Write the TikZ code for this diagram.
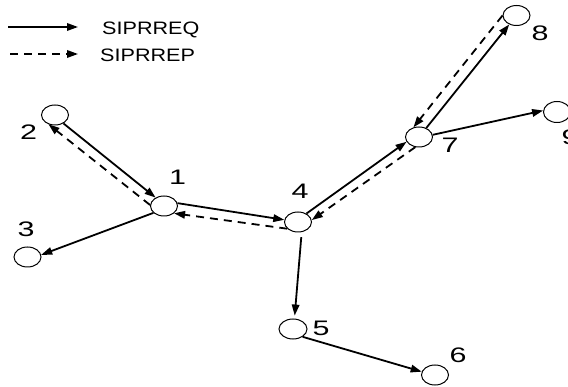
\documentclass[tikz,border=0pt]{standalone}
\usepackage{fontspec}
\setmainfont{Liberation Sans}
\usetikzlibrary{arrows.meta,shapes.geometric}
% labels are set in a horizontally widened face
\newcommand\widenum[1]{\scalebox{1.45}[1]{#1}}
\newcommand\widetext[1]{\scalebox{1.2}[1]{#1}}
\begin{document}
\begin{tikzpicture}[x=1pt,y=-1pt,
  station/.style={ellipse,draw,line width=1pt,inner sep=0pt,
    minimum width=27pt,minimum height=20pt},
  num/.style={inner sep=0pt,font=\fontsize{21}{21}\selectfont},
  req/.style={line width=1.8pt,-{Triangle[length=11pt,width=7.5pt]}},
  rep/.style={req,dash pattern=on 8pt off 6pt},
  legendtext/.style={inner sep=0pt,anchor=base west,
    font=\fontsize{18}{18}\selectfont}]
\useasboundingbox (0,0) rectangle (568,387);
\clip (0,0) rectangle (568,387);

% legend
\coordinate (qa) at (8,27);   \coordinate (qb) at (78,27);
\coordinate (pa) at (10,54);  \coordinate (pb) at (78,54);
\draw[req] (qa) -- (qb);
\draw[rep] (pa) -- (pb);
\node[legendtext] (lq) at (102,35) {\widetext{SIPRREQ}};
\node[legendtext] (lp) at (100,62) {\widetext{SIPRREP}};

% stations
\node[station] (n1) at (164,206) {};
\node[station] (n2) at (55,115) {};
\node[station] (n3) at (27.5,257) {};
\node[station] (n4) at (298,222) {};
\node[station,minimum width=28pt] (n5) at (293,329) {};
\node[station] (n6) at (435,375) {};
\node[station] (n7) at (419,137) {};
\node[station] (n8) at (516.5,15.5) {};
\node[station,minimum height=21pt] (n9) at (557,112) {};

% station numbers
\node[num] (l1) at (177.5,177) {\widenum{1}};
\node[num] (l2) at (28.5,132.5) {\widenum{2}};
\node[num] (l3) at (26,229.5) {\widenum{3}};
\node[num] (l4) at (300,191.5) {\widenum{4}};
\node[num] (l5) at (321,328) {\widenum{5}};
\node[num] (l6) at (458,355.5) {\widenum{6}};
\node[num] (l7) at (450,145) {\widenum{7}};
\node[num] (l8) at (540,33) {\widenum{8}};
\node[num] (l9) at (570,137.5) {\widenum{9}};

% requests (solid) and replies (dashed)
\draw[req] (n2.-45) -- (n1.135);
\draw[rep] (n1.176) -- (n2.-125);
\draw[req] (n1.-147) -- (n3.9);
\draw[req] (n1.12) -- (n4.171);
\draw[rep] (n4.-148) -- (n1.-36);
\draw[req] (n4.45) -- (n7.-159);
\draw[rep] (n7.-110) -- (n4.8);
\draw[req] (n7.51) -- (n8.-129);
\draw[rep] (n8.180) -- (n7.120);
\draw[req] (n7.9) -- (n9.174);
\draw[req,shorten <=5pt,shorten >=3pt] (n4.-70) -- (n5.82);
\draw[req] (n5.-39) -- (n6.166);
\end{tikzpicture}
\end{document}
